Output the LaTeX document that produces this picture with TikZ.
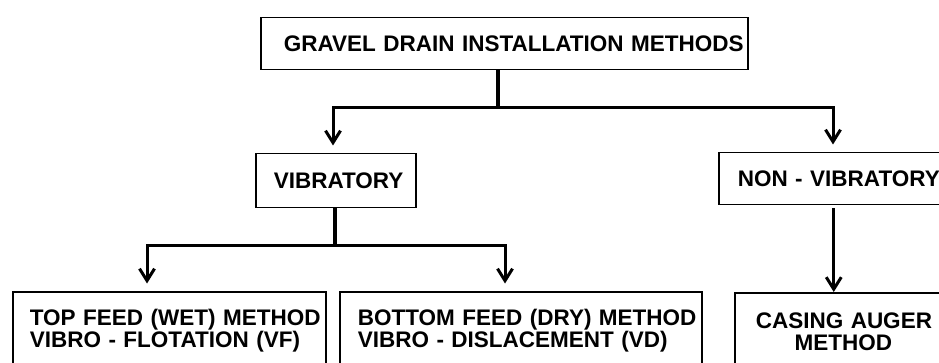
\documentclass[tikz,border=0pt]{standalone}
\usepackage{fontspec}
\setmainfont{Liberation Sans}
\usepackage{tikz}
\usetikzlibrary{arrows.meta,calc}

\begin{document}
\begin{tikzpicture}[
    x=1pt, y=-1pt,
    box/.style 2 args={rectangle, draw, line width=1.5pt, anchor=north west, align=left, inner ysep=0pt, inner xsep=#1, text width=#2, font=\bfseries\fontsize{22.5}{22.5}\selectfont},
    stem/.style={line width=4.5pt},
    arrow/.style={-{Straight Barb[length=12pt,width=15pt]}, line width=3pt},
    gaparrow/.style={arrow, shorten >=7.5pt}
]

% Frame of the picture
\useasboundingbox (0,0) rectangle (939,363);
\clip (0,0) rectangle (939,363);

% Title
\node[box={23pt}{441pt}, minimum height=52pt] (title) at (260,17) {\mbox{GRAVEL DRAIN INSTALLATION METHODS}};

% Second level
\node[box={18pt}{124pt}, minimum height=54pt] (vib) at (255,153) {\mbox{VIBRATORY}};
\node[box={19pt}{192pt}, minimum height=52pt] (nonvib) at (718,152) {\mbox{NON - VIBRATORY}};

% Methods
\node[box={17pt}{279pt}, minimum height=78pt] (topfeed) at (12,291) {\mbox{TOP FEED (WET) METHOD}\\\mbox{VIBRO - FLOTATION (VF)}};
\node[box={18pt}{326pt}, minimum height=78pt] (botfeed) at (339,291) {\mbox{BOTTOM FEED (DRY) METHOD}\\\mbox{VIBRO - DISLACEMENT (VD)}};
\node[box={21pt}{175pt}, align=center, minimum height=78pt] (casing) at (734,292) {\mbox{CASING AUGER}\\\mbox{METHOD}};

% Branch points
\coordinate (bus1) at (498,108);
\coordinate (bus1L) at (333,108);
\coordinate (bus1R) at (833,108);
\coordinate (bus2) at (335,246);
\coordinate (bus2L) at (147,246);
\coordinate (bus2R) at (505,246);

% Arrows - first level
\draw[stem] (bus1) -- (bus1 |- title.south);
\draw[gaparrow] (bus1) -- (bus1L) -- (bus1L |- vib.north);
\draw[gaparrow] (bus1) -- (bus1R) -- (bus1R |- nonvib.north);

% Arrows - second level
\draw[stem] (bus2) -- (bus2 |- vib.south);
\draw[gaparrow] (bus2) -- (bus2L) -- (bus2L |- topfeed.north);
\draw[gaparrow] (bus2) -- (bus2R) -- (bus2R |- botfeed.north);
\draw[arrow, shorten <=3pt] (nonvib) -- (nonvib |- casing.north);

\end{tikzpicture}
\end{document}
